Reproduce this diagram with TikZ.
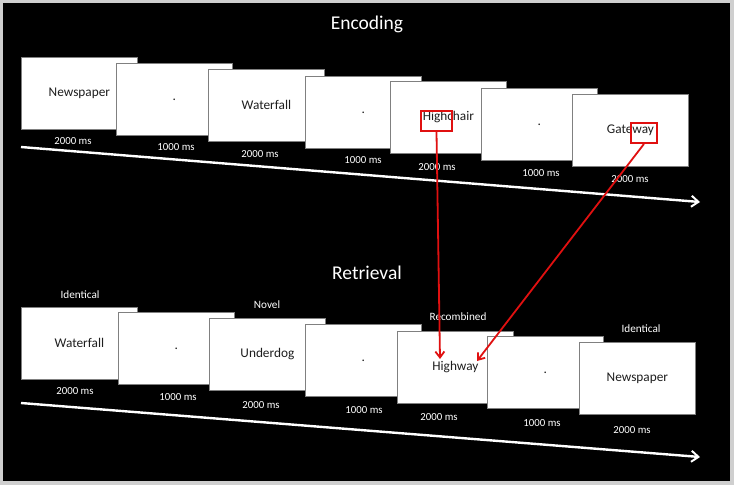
\documentclass[tikz,border=0pt]{standalone}
\usepackage{fontspec}
\setmainfont{Carlito}
\usetikzlibrary{arrows.meta}
\definecolor{slidetext}{HTML}{1E1E1E}
\definecolor{slideedge}{HTML}{808080}
\definecolor{framegrey}{HTML}{CFCFCF}
\definecolor{cuered}{HTML}{E01010}
\tikzset{
  slide/.style={draw=slideedge, line width=0.8pt, fill=white, minimum width=116pt,
    minimum height=72pt, inner sep=0pt, anchor=north west,
    font=\fontsize{13.3}{15}\selectfont, text=slidetext},
  lbl/.style={text=white, font=\fontsize{10.8}{12}\selectfont, inner sep=0pt},
  cat/.style={text=white, font=\fontsize{11.2}{13}\selectfont, inner sep=0pt},
  ttl/.style={text=white, font=\fontsize{19.5}{22}\selectfont, inner sep=0pt},
  timeline/.style={draw=white, line width=2.4pt, -{Straight Barb[length=7pt,width=11pt,line width=2pt]}},
  cuebox/.style={draw=cuered, line width=1.8pt, inner sep=0pt},
  cuearrow/.style={draw=cuered, line width=1.8pt, -{Straight Barb[length=6pt,width=9pt,line width=1.8pt]}}
}
\begin{document}
\begin{tikzpicture}[x=1pt,y=-1pt]
\useasboundingbox (0,0) rectangle (734,485);
\fill[framegrey] (0,0) rectangle (734,485);
\fill[black] (3,3) rectangle (730,481);

% titles
\node[ttl] (enc) at (367,24) {Encoding};
\node[ttl] (ret) at (367,273) {Retrieval};

% encoding slides
\node[slide] (e1) at (21,57) {Newspaper};
\node[slide] (e2) at (116,63) {.};
\node[slide] (e3) at (208,69) {Waterfall};
\node[slide] (e4) at (305,76) {.};
\node[slide] (e5) at (390,81) {Highchair};
\node[slide] (e6) at (481,88) {.};
\node[slide] (e7) at (572,94) {Gateway};

\node[lbl] (le1) at (73,141) {2000 ms};
\node[lbl] (le2) at (176,147) {1000 ms};
\node[lbl] (le3) at (260,154) {2000 ms};
\node[lbl] (le4) at (363,160) {1000 ms};
\node[lbl] (le5) at (437,167) {2000 ms};
\node[lbl] (le6) at (541,173) {1000 ms};
\node[lbl] (le7) at (630,179) {2000 ms};

\coordinate (ea) at (21,147);
\coordinate (eb) at (700,202);
\draw[timeline] (ea) -- (eb);

% retrieval slides
\node[cat] (c1) at (80,295) {Identical};
\node[cat] (c3) at (267,305) {Novel};
\node[cat] (c5) at (458,317) {Recombined};
\node[cat] (c7) at (641,329) {Identical};

\node[slide] (r1) at (21,307) {Waterfall};
\node[slide] (r2) at (118,312) {.};
\node[slide] (r3) at (209,318) {Underdog};
\node[slide] (r4) at (305,324) {.};
\node[slide] (r5) at (397,331) {Highway};
\node[slide] (r6) at (487,336) {.};
\node[slide] (r7) at (579,342) {Newspaper};

\node[lbl] (lr1) at (75,391) {2000 ms};
\node[lbl] (lr2) at (178,397) {1000 ms};
\node[lbl] (lr3) at (261,405) {2000 ms};
\node[lbl] (lr4) at (364,410) {1000 ms};
\node[lbl] (lr5) at (439,417) {2000 ms};
\node[lbl] (lr6) at (542,423) {1000 ms};
\node[lbl] (lr7) at (632,430) {2000 ms};

\coordinate (ra) at (21,403);
\coordinate (rb) at (700,457);
\draw[timeline] (ra) -- (rb);

% cue boxes and arrows
\node[cuebox, minimum width=31pt, minimum height=20pt] (hbox) at (436.5,121) {};
\node[cuebox, minimum width=26pt, minimum height=20pt] (gbox) at (644,133) {};
\coordinate (hw1) at (440,359);
\coordinate (hw2) at (477,361);
\draw[cuearrow] (hbox.south) -- (hw1);
\draw[cuearrow] (gbox.south) -- (hw2);
\end{tikzpicture}
\end{document}
